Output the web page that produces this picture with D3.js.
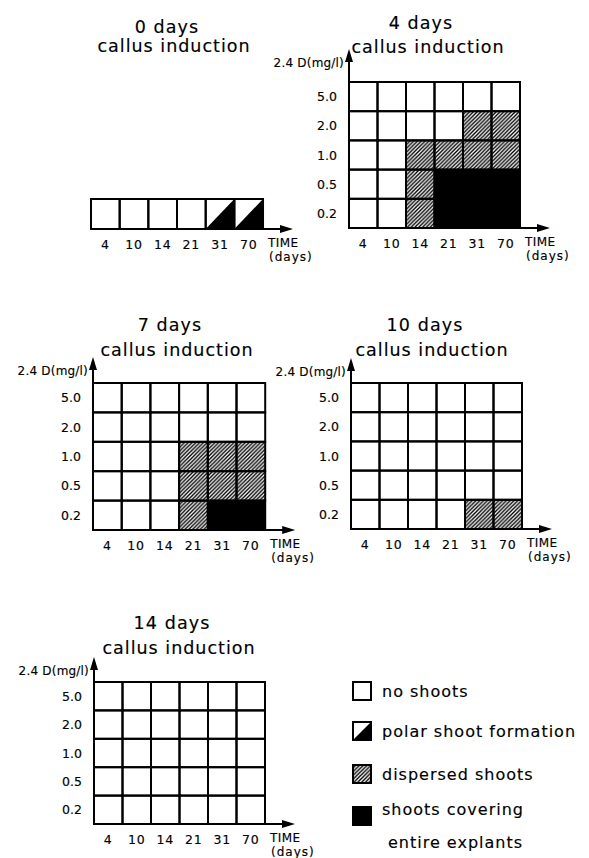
<!DOCTYPE html>
<html><head><meta charset="utf-8">
<script src="https://cdn.jsdelivr.net/npm/d3@7"></script>
<style>
body{margin:0;background:#fff}
text{font-family:"DejaVu Sans",sans-serif;fill:#000;stroke:#000;stroke-width:0.15px}
</style>
</head><body><svg id="c" width="589" height="858"></svg>
<script>
// ---- data ----
const days = ["4","10","14","21","31","70"];
const conc = ["0.2","0.5","1.0","2.0","5.0"];
const categories = ["no shoots","polar shoot formation","dispersed shoots","shoots covering entire explants"];
// codes: 0 no shoots, 1 polar, 2 dispersed, 3 covering ; rows listed from 0.2 upward
const response0  = [[0,0,0,0,1,1]];
const response4  = [[0,0,2,3,3,3],[0,0,2,3,3,3],[0,0,2,2,2,2],[0,0,0,0,2,2],[0,0,0,0,0,0]];
const response7  = [[0,0,0,2,3,3],[0,0,0,2,2,2],[0,0,0,2,2,2],[0,0,0,0,0,0],[0,0,0,0,0,0]];
const response10 = [[0,0,0,0,2,2],[0,0,0,0,0,0],[0,0,0,0,0,0],[0,0,0,0,0,0],[0,0,0,0,0,0]];
const response14 = [[0,0,0,0,0,0],[0,0,0,0,0,0],[0,0,0,0,0,0],[0,0,0,0,0,0],[0,0,0,0,0,0]];
const panelTitles = ["0 days","4 days","7 days","10 days","14 days"];
const subtitle = "callus induction";
const yLabel = "2.4 D(mg/l)";

// ---- layout ----
const layout = [
  {data:response0, rows:["0"], left:91, top:199, cw:28.67, ch:30, cx:174, dy:27, cy:46, yAxis:false},
  {data:response4, rows:conc, left:349, top:82, cw:28.5, ch:29.2, cx:428, dy:23, cy:47, yAxis:true, tip:33},
  {data:response7, rows:conc, left:93, top:383, cw:28.7, ch:29.4, cx:177, dy:325, cy:350, yAxis:true, tip:26},
  {data:response10, rows:conc, left:351, top:383, cw:28.5, ch:29.2, cx:432, dy:325, cy:350, yAxis:true, tip:25},
  {data:response14, rows:conc, left:94, top:682, cw:28.5, ch:28.4, cx:179, dy:623, cy:648, yAxis:true, tip:25}
];

const svg = d3.select("#c");
const defs = svg.append("defs");
const S = 3.8;
const pat = defs.append("pattern").attr("id","hatch").attr("patternUnits","userSpaceOnUse")
  .attr("width",S).attr("height",S);
pat.append("rect").attr("width",S).attr("height",S).attr("fill","#fff");
pat.append("path").attr("d",`M-1,${S+1}L${S+1},-1M${-S-1},${S+1}L${1},-1M${S-1},${S+1}L${2*S+1},-1`)
  .attr("stroke","#000").attr("stroke-width",1.35);

function drawCell(g, x0, y0, w, h, code){
  if(code===0){
    g.append("rect").attr("x",x0).attr("y",y0).attr("width",w).attr("height",h).attr("fill","#fff");
  } else if(code===1){
    g.append("rect").attr("x",x0).attr("y",y0).attr("width",w).attr("height",h).attr("fill","#fff");
    g.append("path").attr("d",`M${x0},${y0+h}L${x0+w},${y0}L${x0+w},${y0+h}Z`).attr("fill","#000");
  } else if(code===2){
    g.append("rect").attr("x",x0).attr("y",y0).attr("width",w).attr("height",h).attr("fill","url(#hatch)");
  } else {
    g.append("rect").attr("x",x0).attr("y",y0).attr("width",w).attr("height",h).attr("fill","#000");
  }
}

layout.forEach((p,i)=>{
  const g = svg.append("g");
  const nR = p.rows.length;
  const x = d3.scaleBand().domain(days).range([p.left, p.left + p.cw*days.length]).padding(0);
  const y = d3.scaleBand().domain(p.rows.slice().reverse()).range([p.top, p.top + p.ch*nR]).padding(0);
  const right = x.range()[1], bottom = y.range()[1];

  p.data.forEach((row,ri)=>{
    row.forEach((code,ci)=>{
      drawCell(g, x(days[ci]), y(p.rows[ri]), x.bandwidth(), y.bandwidth(), code);
    });
  });
  p.data.forEach((row,ri)=>{
    row.forEach((code,ci)=>{
      g.append("rect").attr("x",x(days[ci])).attr("y",y(p.rows[ri]))
       .attr("width",x.bandwidth()).attr("height",y.bandwidth())
       .attr("fill","none").attr("stroke","#000").attr("stroke-width",2);
    });
  });

  const xtip = right + 30;
  g.append("line").attr("x1",p.left).attr("y1",bottom).attr("x2",xtip-8).attr("y2",bottom)
   .attr("stroke","#000").attr("stroke-width",2);
  g.append("path").attr("d",`M${xtip},${bottom}L${xtip-13},${bottom-4}L${xtip-13},${bottom+4}Z`).attr("fill","#000");

  g.selectAll("text.xt").data(days).enter().append("text")
   .attr("x",d=>x(d)+x.bandwidth()/2).attr("y",bottom+15)
   .attr("text-anchor","middle").attr("dominant-baseline","central")
   .attr("font-size",12.5).attr("letter-spacing",0.8).text(d=>d);
  g.append("text").attr("x",right+5).attr("y",bottom+14).attr("dominant-baseline","central")
   .attr("font-size",12).attr("letter-spacing",0.4).text("TIME");
  g.append("text").attr("x",right+6).attr("y",bottom+27.5).attr("dominant-baseline","central")
   .attr("font-size",12).attr("letter-spacing",1.0).text("(days)");

  if(p.yAxis){
    const ytip = p.top - p.tip;
    g.append("line").attr("x1",p.left).attr("y1",bottom).attr("x2",p.left).attr("y2",ytip+8)
     .attr("stroke","#000").attr("stroke-width",2);
    g.append("path").attr("d",`M${p.left},${ytip}L${p.left-4},${ytip+13}L${p.left+4},${ytip+13}Z`).attr("fill","#000");
    g.append("text").attr("x",p.left-5).attr("y",ytip+14).attr("text-anchor","end")
     .attr("dominant-baseline","central").attr("font-size",12).attr("letter-spacing",0.2).text(yLabel);
    g.selectAll("text.yt").data(p.rows).enter().append("text")
     .attr("x",p.left-12).attr("y",d=>y(d)+y.bandwidth()/2)
     .attr("text-anchor","end").attr("dominant-baseline","central")
     .attr("font-size",12.5).text(d=>d);
  }

  g.append("text").attr("x",p.cx-7).attr("y",p.dy).attr("text-anchor","middle")
   .attr("dominant-baseline","central").attr("font-size",17.5).attr("letter-spacing",1.1).text(panelTitles[i]);
  g.append("text").attr("x",p.cx).attr("y",p.cy).attr("text-anchor","middle")
   .attr("dominant-baseline","central").attr("font-size",17.5).attr("letter-spacing",1.0).text(subtitle);
});

// legend
const leg = svg.append("g");
const legY = [691, 731, 774, 816];
categories.forEach((c,i)=>{
  const bx = 353, by = legY[i]-9, bw = 18, bh = 18;
  drawCell(leg, bx, by, bw, bh, i);
  leg.append("rect").attr("x",bx).attr("y",by).attr("width",bw).attr("height",bh)
   .attr("fill","none").attr("stroke","#000").attr("stroke-width",2);
  if(i<3){
    leg.append("text").attr("x",382).attr("y",legY[i]).attr("dominant-baseline","central")
     .attr("font-size",16).attr("letter-spacing",1.0).text(c);
  } else {
    leg.append("text").attr("x",382).attr("y",809).attr("dominant-baseline","central")
     .attr("font-size",16).attr("letter-spacing",1.0).text("shoots covering");
    leg.append("text").attr("x",388).attr("y",842).attr("dominant-baseline","central")
     .attr("font-size",16).attr("letter-spacing",1.0).text("entire explants");
  }
});
</script></body></html>
